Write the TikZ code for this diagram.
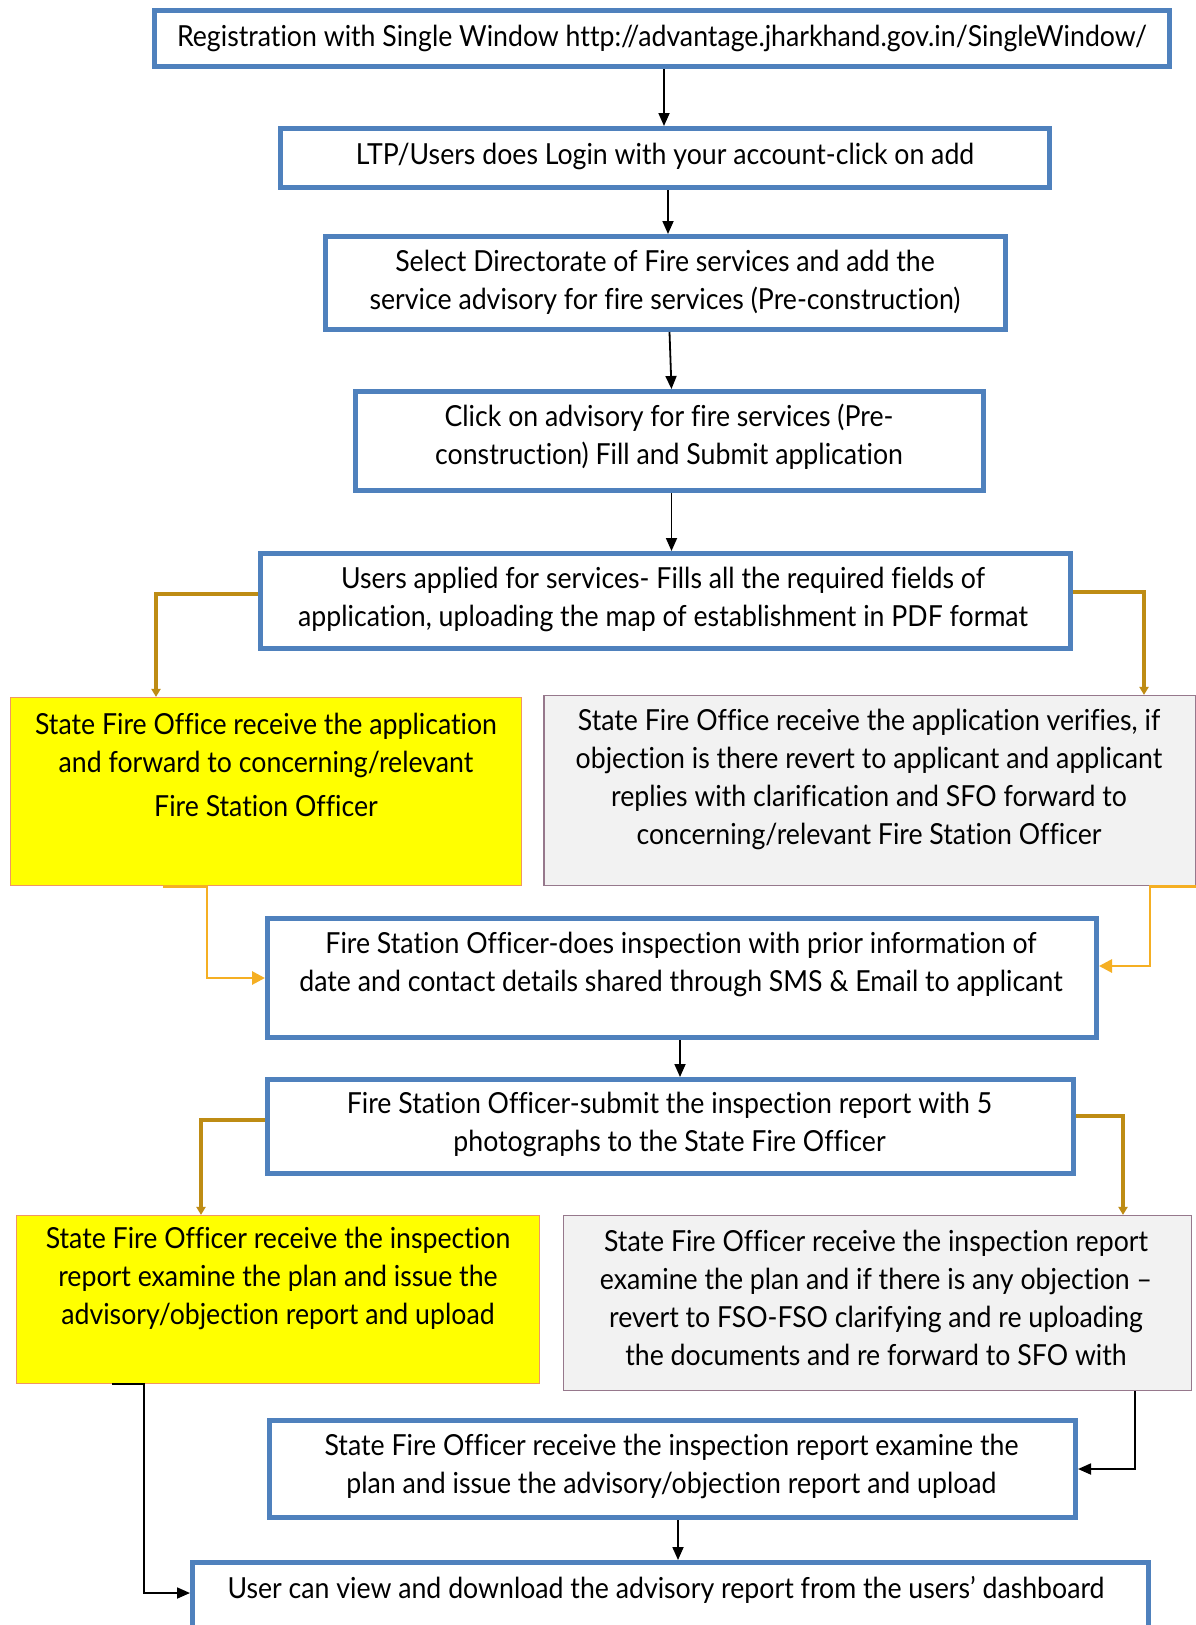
\documentclass[tikz,border=0pt]{standalone}
\usepackage{fontspec}
\setmainfont{Lato}[FakeStretch=0.92,Ligatures={NoCommon}]
\usetikzlibrary{arrows.meta}
\definecolor{boxblue}{RGB}{79,129,189}
\definecolor{brownline}{RGB}{190,140,20}
\definecolor{orangeline}{RGB}{245,175,35}
\definecolor{yellowfill}{RGB}{255,255,0}
\definecolor{yellowborder}{RGB}{240,150,100}
\definecolor{grayfill}{RGB}{242,242,242}
\definecolor{grayborder}{RGB}{150,120,140}
\begin{document}
\begin{tikzpicture}[x=1pt,y=-1pt,
  bluebox/.style={draw=boxblue,line width=5pt,fill=white,rectangle,inner sep=0pt},
  yelbox/.style={draw=yellowborder,line width=1.2pt,fill=yellowfill,rectangle,inner sep=0pt},
  graybox/.style={draw=grayborder,line width=1.2pt,fill=grayfill,rectangle,inner sep=0pt},
  txt/.style={align=center,inner sep=0pt,font=\fontsize{29pt}{38pt}\selectfont},
  blk/.style={draw=black,line width=1.8pt,-{Triangle[length=13pt,width=11pt]}},
  brn/.style={draw=brownline,line width=4pt,-{Triangle[length=8pt,width=9pt]}},
  org/.style={draw=orangeline,line width=2.8pt,-{Triangle[length=13pt,width=13pt]}}]
\useasboundingbox[fill=white] (0,0) rectangle (1195,1625);

% boxes
\node[bluebox,minimum width=1015pt,minimum height=56pt] (b1) at (662,38.5) {};
\node[bluebox,minimum width=769pt,minimum height=59pt] (b2) at (665,158) {};
\node[bluebox,minimum width=680pt,minimum height=93pt] (b3) at (665.5,283) {};
\node[bluebox,minimum width=628pt,minimum height=99pt] (b4) at (669.5,441) {};
\node[bluebox,minimum width=810pt,minimum height=95pt] (b5) at (665.5,601) {};
\node[yelbox,minimum width=511pt,minimum height=188pt] (y1) at (266,791.5) {};
\node[graybox,minimum width=652pt,minimum height=190pt] (g1) at (870,790.5) {};
\node[bluebox,minimum width=829pt,minimum height=119pt] (b6) at (682,978) {};
\node[bluebox,minimum width=806pt,minimum height=94pt] (b7) at (670.5,1126.5) {};
\node[yelbox,minimum width=523pt,minimum height=168pt] (y2) at (278,1299.5) {};
\node[graybox,minimum width=628pt,minimum height=175pt] (g2) at (877.5,1303) {};
\node[bluebox,minimum width=806pt,minimum height=97pt] (b8) at (672.5,1469) {};
\node[bluebox,minimum width=956pt,minimum height=75pt] (b9) at (670.5,1600) {};

% texts
\node[txt] (t1) at (662,38) {Registration with Single Window http://advantage.jharkhand.gov.in/SingleWindow/};
\node[txt] (t2) at (665,156) {LTP/Users does Login with your account-click on add};
\node[txt] (t3) at (665,282) {Select Directorate of Fire services and add the\\service advisory for fire services (Pre-construction)};
\node[txt] (t4) at (669,437) {Click on advisory for fire services (Pre-\\construction) Fill and Submit application};
\node[txt] (t5) at (663,599) {Users applied for services- Fills all the required fields of\\application, uploading the map of establishment in PDF format};
\node[txt] (t6) at (266,765) {State Fire Office receive the application\\and forward to concerning/relevant\\[6pt]Fire Station Officer};
\node[txt] (t7) at (869,779) {State Fire Office receive the application verifies, if\\objection is there revert to applicant and applicant\\replies with clarification and SFO forward to\\concerning/relevant Fire Station Officer};
\node[txt] (t8) at (681,964) {Fire Station Officer-does inspection with prior information of\\date and contact details shared through SMS \& Email to applicant};
\node[txt] (t9) at (669.5,1124) {Fire Station Officer-submit the inspection report with 5\\photographs to the State Fire Officer};
\node[txt] (t10) at (278,1278) {State Fire Officer receive the inspection\\report examine the plan and issue the\\advisory/objection report and upload};
\node[txt] (t11) at (876,1298) {State Fire Officer receive the inspection report\\examine the plan and if there is any objection –\\revert to FSO-FSO clarifying and re uploading\\the documents and re forward to SFO with};
\node[txt] (t12) at (671.5,1466) {State Fire Officer receive the inspection report examine the\\plan and issue the advisory/objection report and upload};
\node[txt] (t13) at (666,1590) {User can view and download the advisory report from the users’ dashboard};

% connectors
\draw[blk] ([xshift=2pt]b1.south) -- ([xshift=2pt]b1.south |- b2.north);
\draw[blk] ([xshift=3pt]b2.south) -- ([xshift=3pt]b2.south |- b3.north);
\draw[blk] ([xshift=4pt]b3.south) -- ([xshift=2pt]b4.north);
\draw[blk] ([xshift=2pt]b4.south) -- ([xshift=2pt]b4.south |- b5.north);
\draw[brn] ([yshift=7pt]b5.west) -| ([xshift=-110pt]y1.north);
\draw[brn] ([yshift=9pt]b5.east) -| ([xshift=274pt]g1.north);
\draw[org] ([xshift=-103pt]y1.south) -- ([xshift=-59pt]y1.south) |- (b6.west);
\draw[org] ([xshift=326pt]g1.south) -- ([xshift=280pt]g1.south) |- ([yshift=12pt]b6.east);
\draw[blk] ([xshift=-2pt]b6.south) -- ([xshift=-2pt]b6.south |- b7.north);
\draw[brn] ([yshift=6.5pt]b7.west) -| ([xshift=-77pt]y2.north);
\draw[brn] ([yshift=10.5pt]b7.east) -| ([xshift=245.5pt]g2.north);
\draw[blk] ([xshift=257.5pt]g2.south) |- (b8.east);
\draw[blk] ([xshift=5.5pt]b8.south) -- ([xshift=5.5pt]b8.south |- b9.north);
\draw[blk] ([xshift=-166pt]y2.south) -- ([xshift=-134pt]y2.south) |- ([yshift=7pt]b9.west);
\end{tikzpicture}
\end{document}
